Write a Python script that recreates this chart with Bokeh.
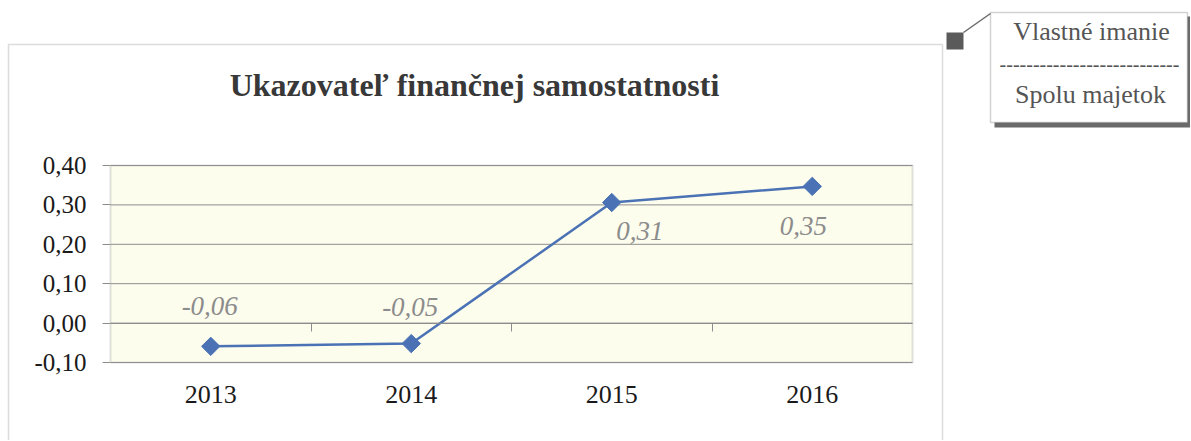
from bokeh.plotting import figure
from bokeh.models import (Range1d, FixedTicker, CustomJSTickFormatter, LinearAxis,
                          Label, BoxAnnotation, Arrow, ColumnDataSource)
from bokeh.core.properties import value
from bokeh.embed import file_html
from bokeh.resources import INLINE

# ---- data ----
years = [2013, 2014, 2015, 2016]
year_labels = ["2013", "2014", "2015", "2016"]
ratio = [-0.059, -0.052, 0.306, 0.347]
point_labels = ["-0,06", "-0,05", "0,31", "0,35"]
y_ticks = [-0.10, 0.00, 0.10, 0.20, 0.30, 0.40]
y_tick_labels = ["-0,10", "0,00", "0,10", "0,20", "0,30", "0,40"]
title_text = "Ukazovateľ finančnej samostatnosti"
callout_top = "Vlastné imanie"
callout_rule = "-" * 27
callout_bottom = "Spolu majetok"

# ---- layout / style (pixels) ----
label_dx = [-1, -1, 28, -9]
label_dy = [-40, -37, 28, 40]
SERIF = "Liberation Serif"
W, H = 1190, 440
PL, PR, PT, PB = 110, 912, 165, 362   # plot area in canvas pixels

x_min, x_max = years[0] - 0.5, years[-1] + 0.5
y_min, y_max = min(y_ticks), max(y_ticks)
ppx = (PR - PL) / (x_max - x_min)
ppy = (PB - PT) / (y_max - y_min)
x_range = Range1d(x_min - PL / ppx, x_max + (W - PR) / ppx)
y_range = Range1d(y_min - (H - PB) / ppy, y_max + PT / ppy)

p = figure(width=W, height=H, x_range=x_range, y_range=y_range,
           x_axis_type=None, y_axis_type=None,
           output_backend="svg", toolbar_location=None,
           min_border=0, min_border_left=0, min_border_right=0,
           min_border_top=0, min_border_bottom=0)
p.outline_line_color = None
p.background_fill_color = "white"
p.border_fill_color = "white"

GRID = "#8c8c8c"

# plot area
p.add_layout(BoxAnnotation(left=x_min, right=x_max, bottom=y_min, top=y_max,
                           fill_color="#fdfdee", fill_alpha=1, line_color=None,
                           level="underlay"))
p.segment(x0=x_min, x1=x_max, y0=y_ticks, y1=y_ticks, line_color=GRID, line_width=1)
p.add_layout(BoxAnnotation(left=x_min, right=x_max, bottom=y_min, top=y_max,
                           fill_color=None, line_color="#9a9a9a", line_width=2))

# y axis
yax = LinearAxis(fixed_location=x_min, ticker=FixedTicker(ticks=y_ticks),
                 formatter=CustomJSTickFormatter(
                     args=dict(yt=y_ticks, yl=y_tick_labels),
                     code="const i = yt.findIndex(t => Math.abs(t - tick) < 1e-9); return i >= 0 ? yl[i] : '';"))
yax.axis_line_color = None
yax.major_tick_out = 8
yax.major_tick_in = 0
yax.major_tick_line_color = GRID
yax.minor_tick_line_color = None
yax.major_label_standoff = 16
yax.major_label_text_font = SERIF
yax.major_label_text_font_size = "25px"
yax.major_label_text_color = "#1a1a1a"
p.add_layout(yax, "left")

# x axis (labels at bottom of plot area)
xax = LinearAxis(fixed_location=y_min, ticker=FixedTicker(ticks=years),
                 formatter=CustomJSTickFormatter(
                     args=dict(xt=years, xl=year_labels),
                     code="const i = xt.findIndex(t => Math.abs(t - tick) < 1e-9); return i >= 0 ? xl[i] : '';"))
xax.axis_line_color = None
xax.major_tick_line_color = None
xax.minor_tick_line_color = None
xax.major_label_standoff = 17
xax.major_label_text_font = SERIF
xax.major_label_text_font_size = "26px"
xax.major_label_text_color = "#1a1a1a"
p.add_layout(xax, "below")

# horizontal axis line at zero with category separators
zax = LinearAxis(fixed_location=0, bounds=(x_min, x_max),
                 ticker=FixedTicker(ticks=[y + 0.5 for y in years[:-1]]))
zax.axis_line_color = GRID
zax.axis_line_width = 1
zax.major_tick_out = 8
zax.major_tick_in = 0
zax.major_tick_line_color = GRID
zax.minor_tick_line_color = None
zax.major_label_text_color = None
p.add_layout(zax, "below")

# series
line_color = "#4a72b4"
p.line(years, ratio, line_width=2.5, color=line_color)
p.scatter(years, ratio, marker="square", angle=0.785398, size=13, color=line_color)

src = ColumnDataSource(dict(x=years, y=ratio, t=point_labels, dx=label_dx, dy=label_dy))
p.text(x="x", y="y", text="t", x_offset="dx", y_offset="dy", source=src,
       text_font=value(SERIF), text_font_style="italic", text_font_size="27px",
       text_color="#8c8c8c", text_align="center", text_baseline="middle")

# outer chart box (screen units: from canvas left / bottom)
p.add_layout(BoxAnnotation(left=8, right=942, top=H - 44, bottom=-10,
                           left_units="screen", right_units="screen",
                           top_units="screen", bottom_units="screen",
                           fill_color=None, line_color="#8a8a8a", line_width=1.5))

# title
p.add_layout(Label(x=474, y=H - 84, x_units="screen", y_units="screen", text=title_text,
                   text_font=SERIF, text_font_style="bold", text_font_size="32px",
                   text_color="#383838", text_align="center", text_baseline="middle"))

# callout
p.add_layout(BoxAnnotation(left=994, right=1192, top=H - 16, bottom=H - 127,
                           left_units="screen", right_units="screen",
                           top_units="screen", bottom_units="screen",
                           fill_color="#6a6a6a", fill_alpha=1, line_color=None))
p.add_layout(BoxAnnotation(left=990, right=1187, top=H - 12, bottom=H - 122,
                           left_units="screen", right_units="screen",
                           top_units="screen", bottom_units="screen",
                           fill_color="white", fill_alpha=1, line_color="#6a6a6a", line_width=1.5))
p.add_layout(BoxAnnotation(left=946, right=963, top=H - 32, bottom=H - 49,
                           left_units="screen", right_units="screen",
                           top_units="screen", bottom_units="screen",
                           fill_color="#5a5a5a", fill_alpha=1, line_color=None))
p.add_layout(Arrow(end=None, x_start=963, y_start=H - 32, x_end=990, y_end=H - 13,
                   start_units="screen", end_units="screen",
                   line_color="#6a6a6a", line_width=1.5))
for txt, xx, yy, fs in [(callout_top, 1091, 31, "26px"), (callout_rule, 1089, 63, "20px"),
                        (callout_bottom, 1090, 94, "26px")]:
    p.add_layout(Label(x=xx, y=H - yy, x_units="screen", y_units="screen", text=txt,
                       text_font=SERIF, text_font_size=fs, text_color="#555555",
                       text_align="center", text_baseline="middle"))

open("out.html", "w").write(file_html(p, INLINE))
